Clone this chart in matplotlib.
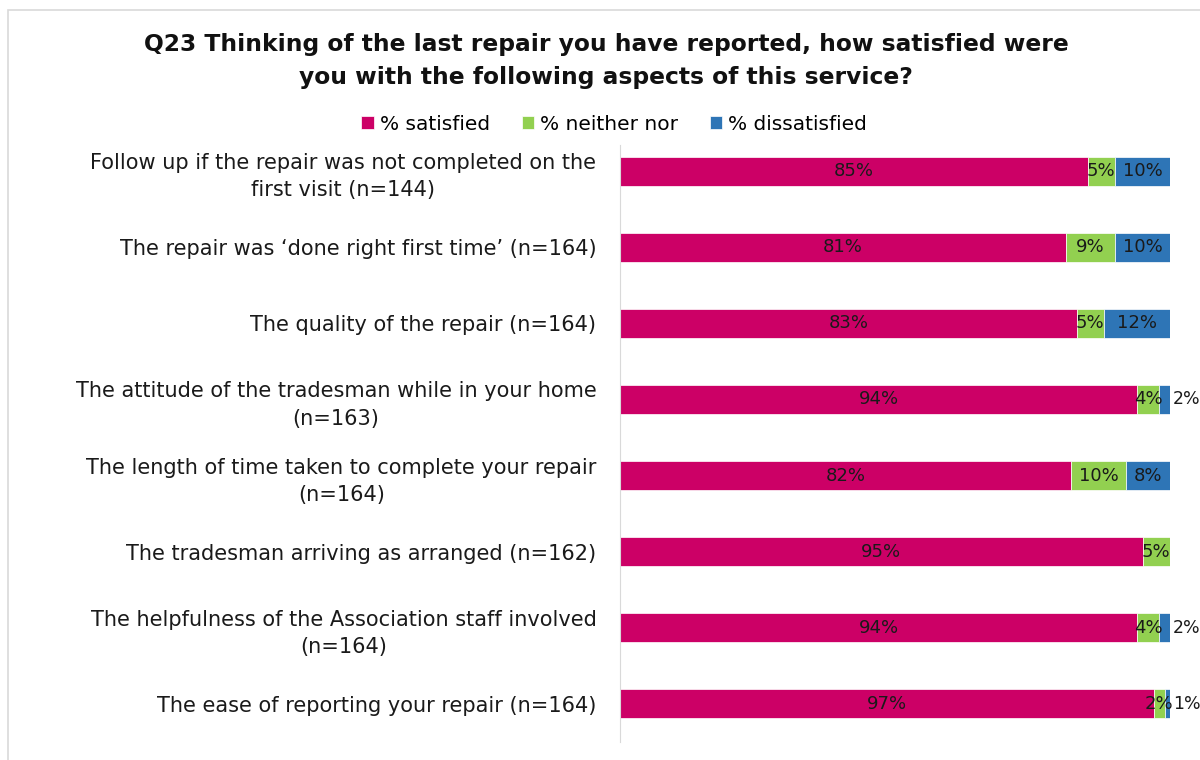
import matplotlib.pyplot as plt
from matplotlib.patches import Rectangle

plt.rcParams['font.family'] = ['DejaVu Sans']

# survey items (top to bottom)
items = [
    "Follow up if the repair was not completed on the\nfirst visit (n=144)",
    "The repair was \u2018done right first time\u2019 (n=164)",
    "The quality of the repair (n=164)",
    "The attitude of the tradesman while in your home\n(n=163)",
    "The length of time taken to complete your repair\n(n=164)",
    "The tradesman arriving as arranged (n=162)",
    "The helpfulness of the Association staff involved\n(n=164)",
    "The ease of reporting your repair (n=164)",
]
satisfied = [85, 81, 83, 94, 82, 95, 94, 97]
neither = [5, 9, 5, 4, 10, 5, 4, 2]
dissatisfied = [10, 10, 12, 2, 8, 0, 2, 1]

series = [
    ("% satisfied", satisfied, "#CC0066"),
    ("% neither nor", neither, "#92D050"),
    ("% dissatisfied", dissatisfied, "#2E75B6"),
]

fig = plt.figure(figsize=(12, 7.6), dpi=100)
ax = fig.add_axes([620 / 1200, 1 - 742 / 760, 550 / 1200, (742 - 145) / 760])

# light frame around the chart
fig.patches.append(Rectangle((8 / 1200, -0.01), 1.0, 1 - 10 / 760 + 0.01,
                             transform=fig.transFigure, fill=False,
                             edgecolor="#d9d9d9", linewidth=1.2))

pos = list(range(len(items)))
left = [0] * len(items)
for name, vals, col in series:
    bars = ax.barh(pos, vals, left=left, height=0.38, color=col,
                   edgecolor="white", linewidth=0.5, label=name)
    if name == "% dissatisfied":
        # narrow end segments get their label just past the bar end
        inside = [f"{v}%" if v > 2 else "" for v in vals]
        outside = [f"{v}%" if 0 < v <= 2 else "" for v in vals]
        ax.bar_label(bars, labels=inside, label_type="center", fontsize=13,
                     color="#1a1a1a")
        ax.bar_label(bars, labels=outside, label_type="edge", padding=2,
                     fontsize=12.5, color="#1a1a1a")
    else:
        labels = [f"{v}%" if v > 0 else "" for v in vals]
        ax.bar_label(bars, labels=labels, label_type="center", fontsize=13,
                     color="#1a1a1a")
    left = [a + b for a, b in zip(left, vals)]

ax.set_xlim(0, 100)
ax.set_ylim(7.5, -0.342)
ax.set_yticks(pos)
ax.set_yticklabels(items, fontsize=15, color="#1a1a1a", multialignment="center",
                   linespacing=1.45)
ax.tick_params(axis="y", length=0, pad=17)
ax.set_xticks([])
for s in ["top", "right", "bottom"]:
    ax.spines[s].set_visible(False)
ax.spines["left"].set_color("#d9d9d9")

fig.text(0.505, 1 - 61 / 760,
         "Q23 Thinking of the last repair you have reported, how satisfied were\n"
         "you with the following aspects of this service?",
         ha="center", va="center", fontsize=16.8, fontweight="bold",
         color="#111111", linespacing=1.55)

fig.legend(loc="center", bbox_to_anchor=(0.512, 1 - 124 / 760), ncol=3,
           frameon=False, fontsize=14.5, handlelength=0.6, handleheight=0.6,
           handletextpad=0.3, columnspacing=1.6)

fig.savefig("out.png", dpi=100)
